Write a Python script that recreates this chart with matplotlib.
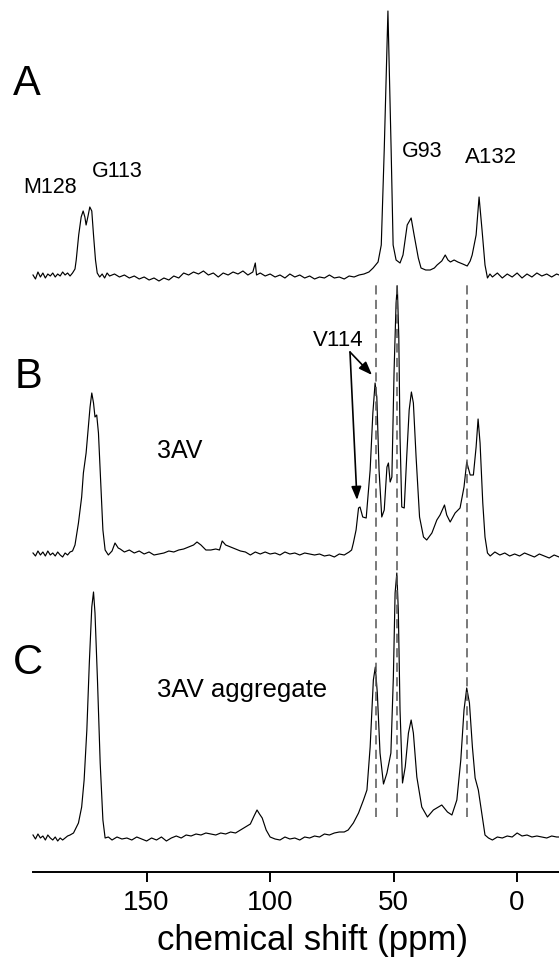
import matplotlib
matplotlib.use("Agg")
import matplotlib.pyplot as plt

plt.rcParams['font.family'] = ['Liberation Sans', 'DejaVu Sans']

# ---------------- data (ppm, intensity) ----------------
A_ppm = [196, 195, 194, 193, 192, 191, 190, 189, 188, 187, 186, 185, 184, 183, 182, 181, 180,
         179, 178.5, 177.5, 176.5, 175.7, 175.0, 174.5, 173.8, 173.0, 172.2, 171.5, 170.7, 170,
         169, 168, 167, 166, 165, 163, 161, 159, 157, 155, 153, 151, 149, 147, 145, 143, 141,
         139, 137, 135, 133, 131, 129, 127, 125, 123, 121, 119, 117, 115, 113, 111, 109, 107,
         106, 105.5, 104, 102, 100, 98, 96, 94, 92, 90, 88, 86, 84, 82, 80, 78, 76, 74, 72, 70,
         68, 66, 64, 62, 60, 58.3, 56.3, 55, 53.8, 52.3, 51, 50.2, 49, 47.4, 46.2, 44.5, 42.9,
         41.7, 40, 38.9, 37, 35.2, 33.5, 32.4, 30.5, 29.1, 28, 27, 25.5, 24, 22, 20.2, 19, 18.2,
         16.6, 15.4, 14.2, 13, 12, 11, 10, 8, 6, 4, 2, 0, -2, -4, -6, -8, -10, -12, -14, -16, -17]
A_int = [0, -4, 3, -2, 2, -3, 1, -1, 2, -2, 1, -1, 3, 0, 2, -1, 2,
         6, 15, 40, 58, 64, 58, 50, 58, 68, 64, 40, 15, 2,
         -2, 1, -3, 2, -1, 1, -2, 0, -3, -1, -4, -2, -5, -3, -6, -3, -5,
         -1, -3, 2, 0, 3, 1, 4, 0, 2, -2, 2, 0, 3, 1, 4, 0, 3,
         12, 0, 2, -1, 1, -2, 0, -3, 1, -2, 0, -3, -1, -4, -2, -3, 0, -3, -2, -4,
         -1, -2, 0, 1, 3, 7, 13, 30, 125, 264, 125, 30, 15, 12, 20, 50, 57,
         40, 17, 7, 5, 5, 7, 10, 14, 20, 15, 13, 15, 13, 11, 9, 14, 20,
         40, 78, 45, 10, -3, 1, -2, 2, -3, 1, -2, 2, -3, 1, -2, 2, -1, 1, -2, 1, 0]

B_ppm = [196, 195, 194, 193, 192, 191, 190, 189, 188, 187, 186, 185, 184, 183, 182, 181, 180,
         179, 177.6, 176.3, 175.6, 174.5, 173.6, 172.9, 172.2, 171.5, 170.9, 170.2, 169.5, 168.5,
         167.7, 166.8, 165.5, 164, 162.8, 161.5, 160.7, 159, 157, 155, 153, 151, 149, 147, 145,
         143, 141, 139, 137, 135, 133, 131, 129.6, 128, 126, 124, 122, 120.5, 119.4, 118, 116,
         114, 112, 110, 108, 106, 104, 102, 100, 98, 96, 94, 92, 90, 88, 86, 84, 82, 80, 78, 76,
         74, 72, 70, 68, 67, 66.3, 65.2, 64.2, 63.6, 62.5, 61.1, 59.5, 58.4, 57.5, 56.8, 55.9,
         54.8, 53.8, 52.7, 52.1, 51.4, 50.7, 49.8, 49, 48.5, 47.9, 47.4, 46.7, 45.7, 44.7, 43.7,
         42.8, 42, 40.9, 39.5, 37.9, 36.6, 34.5, 32.5, 31.2, 29.4, 28.5, 27.1, 25.1, 23.1, 21.5,
         20.4, 19, 17.7, 16.6, 15.8, 15, 13.9, 13, 12, 10.9, 9, 7, 5, 3, 1, -1, -3, -5, -7, -9,
         -11, -13, -15, -17]
B_int = [0, -3, 2, -2, 1, -3, 2, -2, 0, -3, 1, -2, -4, 0, -2, 1, 2,
         8, 30, 56, 80, 100, 126, 146, 160, 150, 136, 138, 120, 66,
         23, 3, -2, 2, 10, 5, 4, 1, 3, 0, 2, -1, 1, -2, -1,
         0, 2, 1, 3, 4, 6, 8, 11, 8, 3, 3, 4, 3, 12, 8, 6,
         4, 2, 1, -2, 1, -1, 1, -1, 0, -2, 1, -1, 0, -2, 0, -1, -2, -1, -3, -2,
         -4, -1, -2, 1, 3, 10, 23, 45, 46, 36, 35, 83, 140, 170, 156, 83,
         36, 43, 86, 90, 71, 76, 183, 250, 267, 216, 116, 46, 45, 96, 143,
         161, 150, 96, 36, 16, 13, 20, 33, 38, 48, 38, 31, 40, 45, 66,
         91, 78, 78, 106, 134, 110, 50, 16, 0, -3, 1, -2, 0, -3, -1, -3, 0, -2, -4, -1,
         -3, -5, -2, -4]

C_ppm = [196, 195, 194, 193, 192, 191, 190, 189, 188, 187, 186, 185, 184, 183, 182, 181,
         179.6, 177.6, 176.3, 175.3, 174.2, 173.2, 172.2, 171.5, 170.9, 169.9, 168.8, 167.7,
         166.8, 165.5, 164, 162, 160, 158, 156, 154, 152, 150, 148, 146, 144, 142, 140, 138,
         136, 134, 132, 130, 128, 126, 124, 122, 120, 118, 116, 114, 112, 110, 108, 106.5,
         105.3, 104.3, 103.2, 101.6, 100, 98, 96, 94, 92, 90, 88, 86, 84, 82, 80, 78, 76, 74,
         72, 70, 68.4, 66.3, 64.2, 62.2, 60.8, 59.5, 58.2, 57.4, 56.6, 55.5, 54.1, 52.7, 51.1,
         50.1, 49.4, 48.7, 48.1, 47.4, 46.4, 45.3, 44, 42.9, 42, 40.6, 38.6, 36.3, 33.9, 30.5,
         28.2, 26.4, 24.4, 22.8, 21.5, 20.4, 19.3, 18.1, 17, 15.7, 14.3, 13, 11.6, 10, 8, 6, 4,
         2, 0, -2, -4, -6, -8, -10, -12, -14, -16, -17]
C_int = [3, -1, 4, 0, 2, -2, 3, 0, -2, 1, -3, 0, -2, 0, 2, 3,
         5, 15, 31, 58, 108, 175, 231, 246, 225, 158, 75, 18,
         0, 1, -2, 1, -1, 0, -2, 1, -1, -3, 0, -2, 1, -3, 0, 2,
         0, 3, 2, 4, 3, 5, 4, 3, 5, 4, 6, 5, 8, 11, 14, 22,
         28, 24, 20, 8, 1, -1, -2, 1, -1, 0, -2, 1, 0, 2, 1, 4, 3, 5,
         6, 6, 8, 15, 25, 38, 48, 91, 158, 171, 145, 85, 54, 65, 85,
         161, 245, 265, 228, 128, 55, 71, 105, 118, 105, 61, 31, 21, 28, 33,
         26, 23, 38, 78, 128, 150, 135, 91, 60, 48, 25, 3, 0, -2, 1, 0, 2,
         1, 5, 2, 3, 1, 2, 1, 0, 2, 1, 1]

panel_letters = ["A", "B", "C"]
ref_lines_ppm = [57.2, 48.6, 20.2]
tick_values = [150, 100, 50, 0]
x_label = "chemical shift (ppm)"

# ---------------- layout ----------------
W, H = 559, 961
fig = plt.figure(figsize=(W / 100, H / 100), dpi=100)
ax_left_px, ax_bottom_px = 33, 872
ax = fig.add_axes([ax_left_px / W, (H - ax_bottom_px) / H, (W - ax_left_px) / W, ax_bottom_px / H])
ax.set_xlim(196, -16.96)
ax.set_ylim(0, ax_bottom_px)

offsets = {"A": ax_bottom_px - 275, "B": ax_bottom_px - 553, "C": ax_bottom_px - 838}

for key, ppm, inten in [("A", A_ppm, A_int), ("B", B_ppm, B_int), ("C", C_ppm, C_int)]:
    ax.plot(ppm, [v + offsets[key] for v in inten], color="black", lw=0.85, clip_on=False)

for p in ref_lines_ppm:
    ax.plot([p, p], [ax_bottom_px - 817, ax_bottom_px - 284], color="#555555", lw=1.1,
            dashes=(6, 3.5))

for s in ["top", "right", "left"]:
    ax.spines[s].set_visible(False)
ax.spines["bottom"].set_linewidth(1.4)
ax.set_yticks([])
ax.set_xticks(tick_values)
ax.set_xticklabels([str(t) for t in tick_values], fontsize=20)
ax.tick_params(axis="x", direction="out", length=7, width=1.4, pad=6)
ax.set_xlabel(x_label, fontsize=25, labelpad=6, x=0.532)


def ftext(x, y, s, size):
    fig.text(x / W, 1 - y / H, s, fontsize=size, ha="left", va="baseline")


ftext(13, 95, "A", 30)
ftext(15, 388, "B", 30)
ftext(13, 674, "C", 30)
ftext(23, 193, "M128", 15.5)
ftext(92, 177, "G113", 15.5)
ftext(402, 157, "G93", 15.5)
ftext(465, 163, "A132", 16)
ftext(313, 346, "V114", 16)
ftext(157, 458, "3AV", 18)
ftext(157, 697, "3AV aggregate", 18.5)


def px2data(x, y):
    return 196 - (x - ax_left_px) / 2.47, ax_bottom_px - y


tail = px2data(350, 352)
for head_px in [(372, 375), (357, 500)]:
    ax.annotate("", xy=px2data(*head_px), xytext=tail,
                arrowprops=dict(arrowstyle="-|>,head_length=0.8,head_width=0.3",
                                color="black", lw=1.2, shrinkA=0, shrinkB=0))

fig.savefig("out.png", dpi=100)
